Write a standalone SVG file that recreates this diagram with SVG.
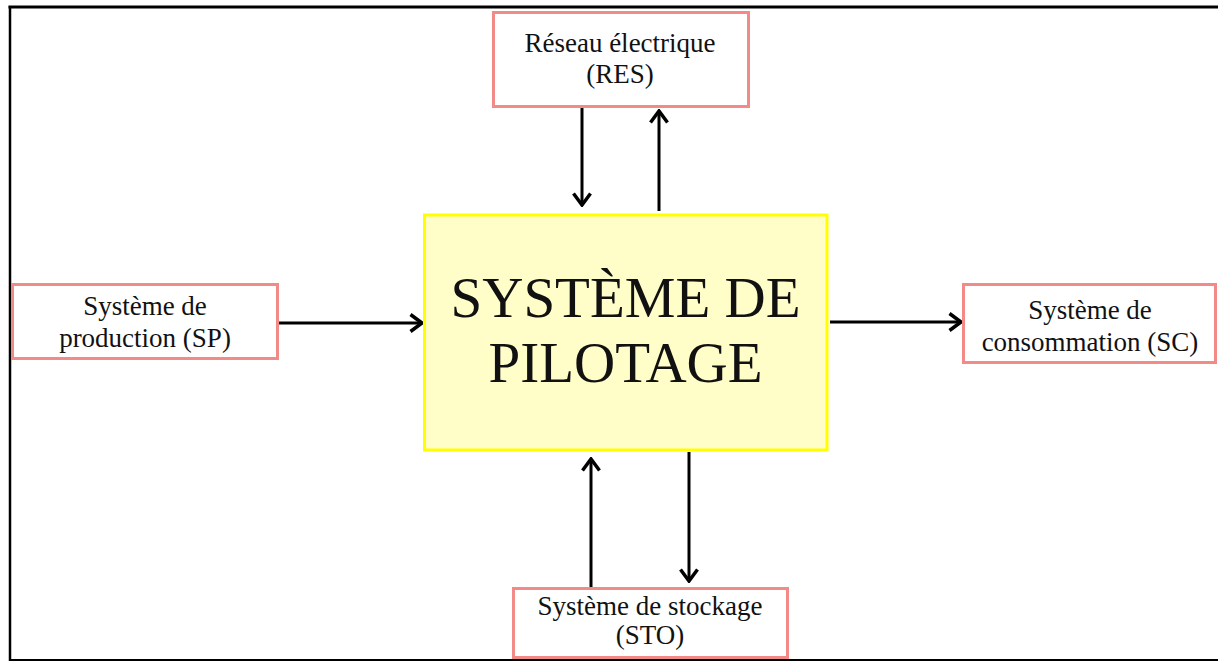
<svg xmlns="http://www.w3.org/2000/svg" width="1218" height="662" viewBox="0 0 1218 662">
<style>
.frame{stroke:#000;fill:none}
.box{fill:#fff;stroke:#F28A88;stroke-width:3}
.center{fill:#FFFDC8;stroke:#FFFF00;stroke-width:3}
.lbl{font-family:"Liberation Serif","Times New Roman",serif;font-size:27px;fill:#111;text-anchor:middle}
.big{font-family:"Liberation Serif","Times New Roman",serif;font-size:57px;fill:#111;text-anchor:middle}
.conn{stroke:#000;stroke-width:3;fill:none;marker-end:url(#arr)}
</style>
<defs>
<marker id="arr" markerUnits="userSpaceOnUse" viewBox="0 0 15 20" refX="13" refY="10" markerWidth="15" markerHeight="20" orient="auto">
<path d="M1.5,1.5 L13,10 L1.5,18.5" fill="none" stroke="#000" stroke-width="3.5" stroke-linejoin="miter"/>
</marker>
</defs>
<rect width="1218" height="662" fill="#fff"/>
<g id="frame">
<line class="frame" x1="8.5" y1="7" x2="1218" y2="7" stroke-width="3"/>
<line class="frame" x1="10" y1="6" x2="10" y2="661" stroke-width="2.5"/>
<line class="frame" x1="9" y1="660" x2="1218" y2="660" stroke-width="2"/>
</g>
<g id="connectors">
<line class="conn" x1="582" y1="107" x2="582" y2="205"/>
<line class="conn" x1="659" y1="211" x2="659" y2="111"/>
<line class="conn" x1="278" y1="323" x2="422" y2="323"/>
<line class="conn" x1="830" y1="322" x2="961" y2="322"/>
<line class="conn" x1="591" y1="588" x2="591" y2="459"/>
<line class="conn" x1="689" y1="452" x2="689" y2="581"/>
</g>
<g id="pilotage">
<rect class="center" x="424.5" y="215" width="402.5" height="235"/>
<text class="big" x="625.5" y="317">SYSTÈME DE</text>
<text class="big" x="625.5" y="382">PILOTAGE</text>
</g>
<g id="res">
<rect class="box" x="493.5" y="12.5" width="255" height="94"/>
<text class="lbl" x="620" y="52">Réseau électrique</text>
<text class="lbl" x="620" y="83">(RES)</text>
</g>
<g id="sp">
<rect class="box" x="12.5" y="284.5" width="265" height="74"/>
<text class="lbl" x="145" y="315">Système de</text>
<text class="lbl" x="145" y="347">production (SP)</text>
</g>
<g id="sc">
<rect class="box" x="963.5" y="284.5" width="252" height="78"/>
<text class="lbl" x="1090" y="319">Système de</text>
<text class="lbl" x="1090" y="351">consommation (SC)</text>
</g>
<g id="sto">
<rect class="box" x="513.5" y="588.5" width="274" height="69"/>
<text class="lbl" x="650" y="615">Système de stockage</text>
<text class="lbl" x="650" y="644">(STO)</text>
</g>
</svg>
